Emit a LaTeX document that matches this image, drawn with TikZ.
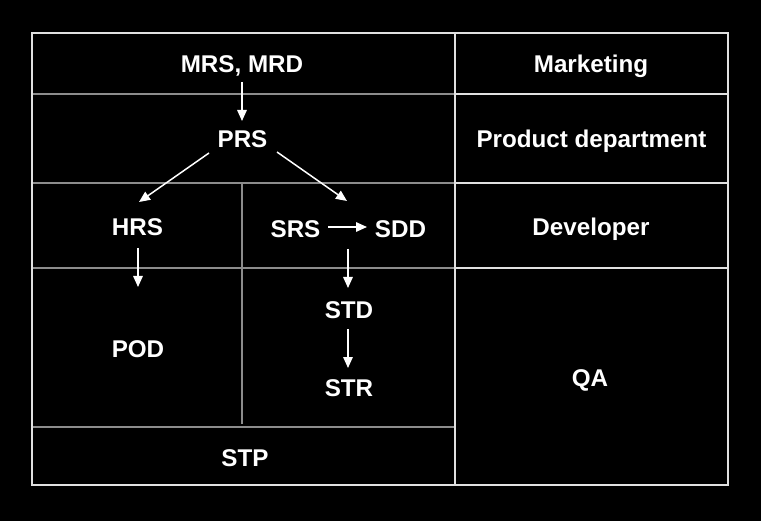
\documentclass[tikz,border=0pt]{standalone}
\usepackage{fontspec}
\setmainfont{Liberation Sans}
\usetikzlibrary{arrows.meta}
\tikzset{
  light/.style={draw=white!88!black, line width=2bp},
  dim/.style={draw=white!55!black, line width=2bp},
  lbl/.style={text=white, font=\bfseries\fontsize{24.2bp}{28bp}\selectfont, inner sep=0pt, text height=17.4bp, text depth=0pt, anchor=center},
  arr/.style={draw=white, line width=1.5bp, -{Triangle[length=11bp,width=9.5bp]}}
}
\begin{document}
\begin{tikzpicture}[x=1bp,y=-1bp]
\fill[black] (0,0) rectangle (761,521);
\useasboundingbox (0,0) rectangle (761,521);
% grey inner lines (left part)
\draw[dim] (32,94) -- (455,94);
\draw[dim] (32,183) -- (455,183);
\draw[dim] (32,268) -- (455,268);
\draw[dim] (32,427) -- (455,427);
\draw[dim] (242,184) -- (242,424);
% light lines (right part and border)
\draw[light] (455,94) -- (728,94);
\draw[light] (455,183) -- (728,183);
\draw[light] (455,268) -- (728,268);
\draw[light] (455,33) -- (455,485);
\draw[light] (32,33) rectangle (728,485);
% labels
\node[lbl] (mrs) at (242,64) {MRS, MRD};
\node[lbl] (prs) at (242.5,139) {PRS};
\node[lbl] (hrs) at (137.5,227) {HRS};
\node[lbl] (srs) at (295.5,228.5) {SRS};
\node[lbl] (sdd) at (400.5,228.5) {SDD};
\node[lbl] (std) at (349,310) {STD};
\node[lbl] (str) at (349,388) {STR};
\node[lbl] (pod) at (138,349) {POD};
\node[lbl] (stp) at (245,457.5) {STP};
\node[lbl] (mkt) at (591,63.5) {Marketing};
\node[lbl] (pd) at (591.5,139) {Product department};
\node[lbl] (dev) at (591,227) {Developer};
\node[lbl] (qa) at (590,377.5) {QA};
% connector end points
\coordinate (mrsB) at (242,82);
\coordinate (prsT) at (242,121);
\coordinate (prsL) at (209,153);
\coordinate (hrsT) at (139,202);
\coordinate (prsR) at (277,152);
\coordinate (devT) at (347,201);
\coordinate (srsR) at (328,227);
\coordinate (sddL) at (367,227);
\coordinate (sddB) at (348,249);
\coordinate (stdT) at (348,288);
\coordinate (stdB) at (348,329);
\coordinate (strT) at (348,368);
\coordinate (hrsB) at (138,248);
\coordinate (podT) at (138,287);
% connectors
\draw[arr] (mrsB) -- (prsT);
\draw[arr] (prsL) -- (hrsT);
\draw[arr] (prsR) -- (devT);
\draw[arr] (srsR) -- (sddL);
\draw[arr] (sddB) -- (stdT);
\draw[arr] (stdB) -- (strT);
\draw[arr] (hrsB) -- (podT);
\end{tikzpicture}
\end{document}
